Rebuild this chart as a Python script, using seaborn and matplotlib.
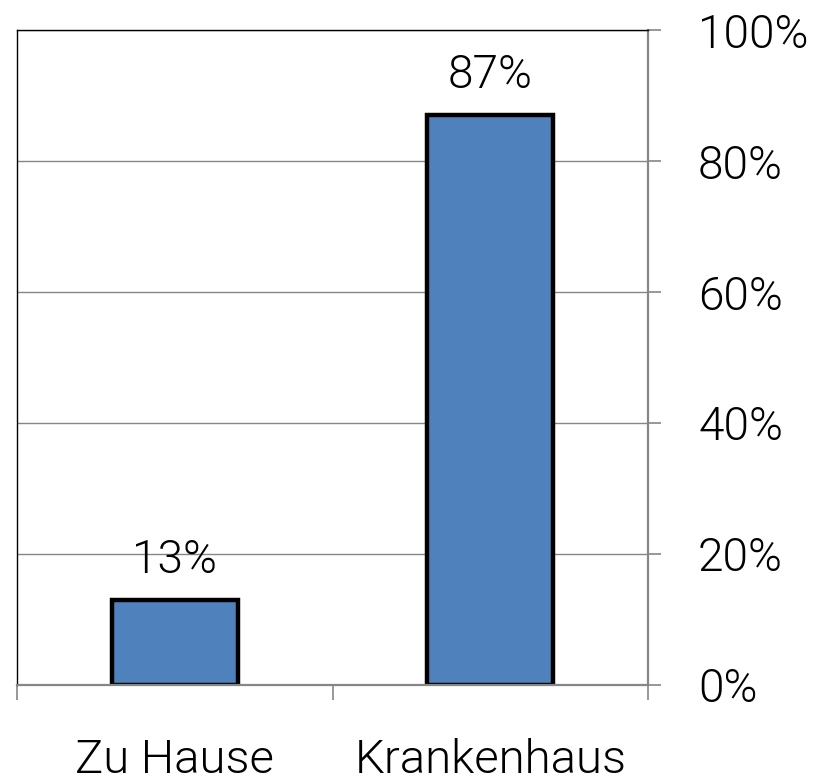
import matplotlib.pyplot as plt
import pandas as pd
import seaborn as sns
from matplotlib.ticker import FixedLocator, PercentFormatter

places = ["Zu Hause", "Krankenhaus"]
shares = [13, 87]
y_ticks = [0, 20, 40, 60, 80, 100]

df = pd.DataFrame({"Ort": places, "Anteil": shares})

sns.set_style("white")
plt.rcParams["font.family"] = ["Roboto", "DejaVu Sans"]
plt.rcParams["font.weight"] = 300
plt.rcParams["text.color"] = "black"

fig = plt.figure(figsize=(8.25, 7.84), dpi=100)
ax = fig.add_axes([0.0206, 0.1263, 0.765, 0.8354])

sns.barplot(ax=ax, x="Ort", y="Anteil", data=df, color="#4F81BD",
            saturation=1, width=0.4, edgecolor="black", linewidth=3.2)

ax.set_xlim(-0.5, 1.5)
ax.set_ylim(0, 100)
ax.set_yticks(y_ticks)
ax.yaxis.set_major_formatter(PercentFormatter(decimals=0))
ax.yaxis.tick_right()
ax.grid(axis="y", color="#868686", linewidth=1)
ax.set_axisbelow(True)
ax.set_xlabel("")
ax.set_ylabel("")

grey = "#868686"
ax.spines["left"].set_color("black")
ax.spines["top"].set_color("black")
ax.spines["left"].set_linewidth(1)
ax.spines["top"].set_linewidth(1)
ax.spines["right"].set_color(grey)
ax.spines["right"].set_linewidth(1.6)
ax.spines["bottom"].set_color(grey)
ax.spines["bottom"].set_linewidth(1.6)

ax.tick_params(axis="y", which="major", right=True, left=False, length=9,
               width=1.2, color=grey, pad=27, labelsize=33, labelcolor="black")
ax.tick_params(axis="x", which="major", length=0, pad=38, labelsize=34, labelcolor="black")
ax.xaxis.set_minor_locator(FixedLocator([-0.5, 0.5, 1.5]))
ax.tick_params(axis="x", which="minor", bottom=True, length=11, width=1.2, color=grey)

# Add values on top of bars
for p in ax.patches:
    ax.annotate(f"{int(round(p.get_height()))}%",
                (p.get_x() + p.get_width() / 2., p.get_height()),
                ha="center", va="bottom", xytext=(0, 13), textcoords="offset points",
                fontsize=33, color="black")

fig.savefig("out.png", dpi=100)
